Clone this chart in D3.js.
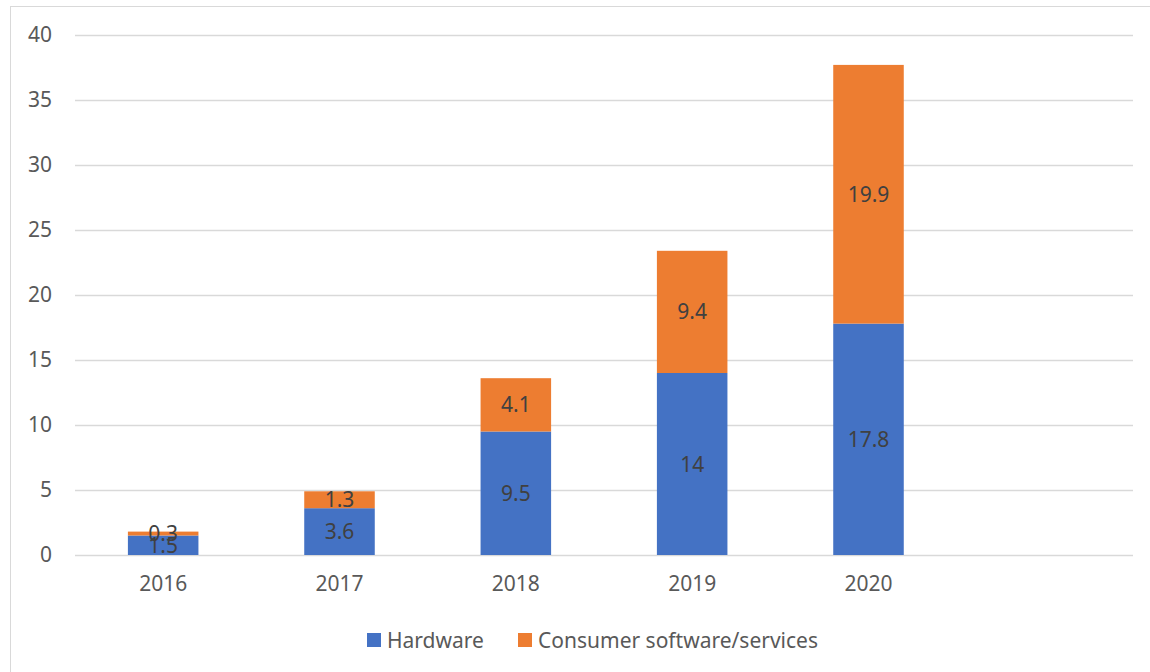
<!DOCTYPE html>
<meta charset="utf-8">
<script src="https://cdn.jsdelivr.net/npm/d3@7"></script>
<style>
body { margin: 0; background: #fff; }
text { font-family: "Noto Sans", sans-serif; }
.tick text { fill: #595959; font-size: 21px; }
.label { fill: #404040; font-size: 21px; }
.legend text { fill: #595959; font-size: 21px; }
</style>
<body>
<script>

// data (empty last slot is part of the category axis)
var years = ["2016", "2017", "2018", "2019", "2020", ""];
var hardware = [1.5, 3.6, 9.5, 14, 17.8, null];
var software = [0.3, 1.3, 4.1, 9.4, 19.9, null];
var seriesNames = ["Hardware", "Consumer software/services"];
var seriesColors = ["#4472c4", "#ed7d31"];
var yTicks = [0, 5, 10, 15, 20, 25, 30, 35, 40];

var width = 1150,
    height = 672;

var svg = d3.select("body").append("svg")
    .attr("width", width)
    .attr("height", height);

// outer chart border (cropped at right/bottom in the reference)
svg.append("rect")
    .attr("x", 10.5).attr("y", 6.5)
    .attr("width", 1160).attr("height", 700)
    .attr("fill", "none")
    .attr("stroke", "#d9d9d9");

var x = d3.scaleBand()
    .domain(years)
    .range([75, 1133])
    .paddingInner(0.6)
    .paddingOuter(0.3);

var y = d3.scaleLinear()
    .domain([0, 40])
    .range([555, 35]);

// gridlines + y labels
var yAxis = svg.append("g")
    .attr("transform", "translate(75,0)")
    .call(d3.axisLeft(y).tickValues(yTicks).tickSize(-1058).tickPadding(23));
yAxis.select(".domain").remove();
yAxis.selectAll("line").attr("stroke", "#d9d9d9").attr("stroke-width", 1.3);

// x labels
var xAxis = svg.append("g")
    .attr("transform", "translate(0,555)")
    .call(d3.axisBottom(x).tickSize(0).tickPadding(21));
xAxis.select(".domain").remove();

// stacked bars
var rows = years.map(function(yr, i) {
  return {year: yr, hw: hardware[i], sw: software[i]};
}).filter(function(d) { return d.hw != null; });

var stack = d3.stack().keys(["hw", "sw"]);
var layers = stack(rows);

var g = svg.append("g");
layers.forEach(function(layer, k) {
  g.selectAll(".bar" + k)
    .data(layer)
    .enter().append("rect")
    .attr("x", function(d) { return x(d.data.year); })
    .attr("width", x.bandwidth())
    .attr("y", function(d) { return y(d[1]); })
    .attr("height", function(d) { return y(d[0]) - y(d[1]); })
    .attr("fill", seriesColors[k]);
});

// value labels, centred in each segment
layers.forEach(function(layer, k) {
  g.selectAll(".lab" + k)
    .data(layer)
    .enter().append("text")
    .attr("class", "label")
    .attr("text-anchor", "middle")
    .attr("dy", "0.36em")
    .attr("x", function(d) { return x(d.data.year) + x.bandwidth() / 2; })
    .attr("y", function(d) { return y((d[0] + d[1]) / 2); })
    .text(function(d) { return d[1] - d[0] > 0 ? +(d[1] - d[0]).toFixed(1) : ""; });
});

// legend
var legendX = [367, 518];
var legend = svg.append("g").attr("class", "legend");
seriesNames.forEach(function(name, i) {
  legend.append("rect")
    .attr("x", legendX[i]).attr("y", 633)
    .attr("width", 14).attr("height", 14)
    .attr("fill", seriesColors[i]);
  legend.append("text")
    .attr("x", legendX[i] + 20).attr("y", 640)
    .attr("dy", "0.36em")
    .text(name);
});

</script>
</body>
</html>
